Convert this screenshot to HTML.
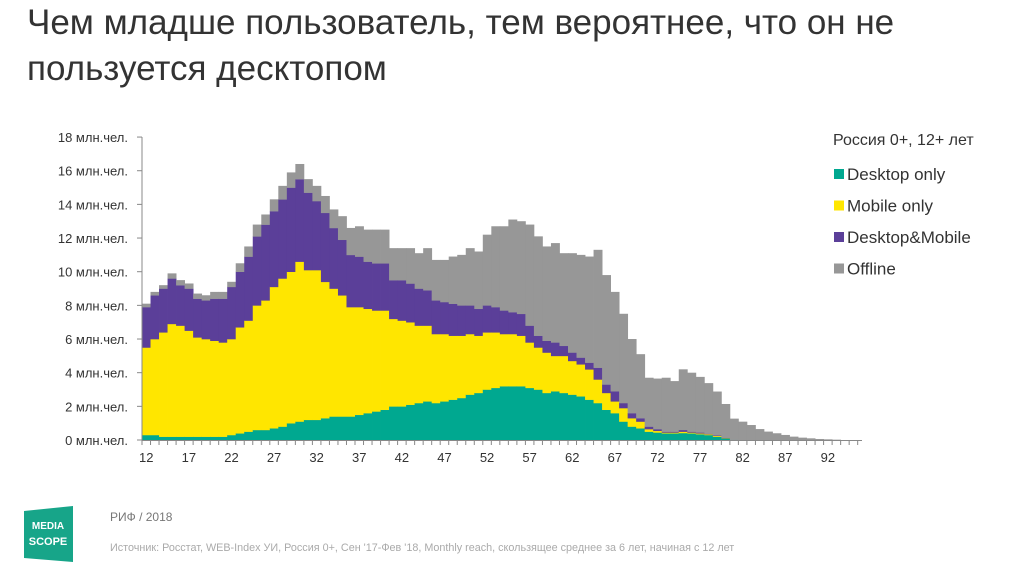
<!DOCTYPE html>
<html><head><meta charset="utf-8"><style>
body{margin:0;width:1023px;height:571px;background:#fff;overflow:hidden;font-family:"Liberation Sans",Arial,sans-serif;position:relative}
.t{position:absolute;left:27px;top:0px;font-size:35px;line-height:46px;color:#333}
svg{position:absolute;left:0;top:0}
</style></head><body>
<div class="t">Чем младше пользователь, тем вероятнее, что он не<br>пользуется десктопом</div>
<svg id="c" width="1023" height="571">
<g>
<polygon points="24,511 73,506 73,562 24,558" fill="#17a589"/>
<text x="48" y="529" font-size="10" fill="#fff" text-anchor="middle" font-weight="bold">MEDIA</text>
<text x="48" y="545" font-size="11" fill="#fff" text-anchor="middle" font-weight="bold">SCOPE</text>
</g>
<text x="110" y="521" font-size="12" fill="#777">РИФ / 2018</text>
<text x="110" y="551" font-size="10.8" fill="#aaa">Источник: Росстат, WEB-Index УИ, Россия 0+, Сен '17-Фев '18, Monthly reach, скользящее среднее за 6 лет, начиная с 12 лет</text>
</svg>
<script>
const ages=[];for(let a=12;a<=95;a++)ages.push(a);
const desktop=[.3,.3,.2,.2,.2,.2,.2,.2,.2,.2,.3,.4,.5,.6,.6,.7,.8,1.0,1.1,1.2,1.2,1.3,1.4,1.4,1.4,1.5,1.6,1.7,1.8,2.0,2.0,2.1,2.2,2.3,2.2,2.3,2.4,2.5,2.7,2.8,3.0,3.1,3.2,3.2,3.2,3.1,3.0,2.8,2.9,2.8,2.7,2.6,2.4,2.2,1.8,1.6,1.1,.8,.7,.5,.45,.4,.4,.42,.4,.35,.3,.2,.1,.02,0,0,0,0,0,0,0,0,0,0,0,0,0,0];
const mobile=[5.2,5.7,6.2,6.7,6.6,6.3,5.9,5.8,5.7,5.6,5.7,6.3,6.6,7.4,7.7,8.4,8.8,9.0,9.5,8.9,8.9,8.1,7.6,7.2,6.5,6.4,6.2,6.0,5.9,5.2,5.1,4.9,4.6,4.5,4.1,4.0,3.8,3.7,3.6,3.4,3.4,3.3,3.1,3.1,3.0,2.7,2.5,2.4,2.1,2.2,2.0,1.9,1.8,1.4,1.0,.7,.8,.5,.4,.15,.1,.05,.05,.08,.05,.05,.05,.05,.02,0,0,0,0,0,0,0,0,0,0,0,0,0,0,0];
const both=[2.4,2.6,2.6,2.7,2.4,2.5,2.3,2.3,2.5,2.6,3.1,3.3,3.8,4.1,4.5,4.5,4.7,5.0,4.9,4.6,4.1,4.1,3.6,3.3,3.1,3.0,2.8,2.8,2.8,2.3,2.4,2.3,2.2,2.1,2.0,1.9,1.9,1.8,1.7,1.6,1.6,1.5,1.4,1.3,1.3,1.0,.7,.7,.8,.6,.5,.4,.4,.7,.5,.6,.3,.3,.2,.15,.1,.05,.05,.1,.05,.05,.03,.03,.02,0,0,0,0,0,0,0,0,0,0,0,0,0,0,0];
const offline=[.2,.2,.2,.3,.3,.3,.3,.3,.4,.4,.3,.5,.6,.7,.6,.7,.8,.9,.9,.8,.9,1.0,1.1,1.4,1.6,1.8,1.9,2.0,2.0,1.9,1.9,2.1,2.1,2.5,2.4,2.5,2.8,3.0,3.4,3.4,4.2,4.8,5.0,5.5,5.5,6.0,5.9,5.6,5.9,5.5,5.9,6.1,6.3,7.0,6.5,5.9,5.3,4.4,3.8,2.9,3.0,3.2,3.0,3.6,3.5,3.3,3.0,2.6,2.0,1.25,1.09,.89,.65,.5,.4,.3,.2,.14,.1,.06,.04,.02,0,0];
const yTicks=[0,2,4,6,8,10,12,14,16,18];
const xLabels=[12,17,22,27,32,37,42,47,52,57,62,67,72,77,82,87,92];
const series=[["desktop-only",desktop,"#00a890","Desktop only"],["mobile-only",mobile,"#ffe600","Mobile only"],["desktop-and-mobile",both,"#5b3f99","Desktop&Mobile"],["offline",offline,"#979797","Offline"]];
const NS="http://www.w3.org/2000/svg",svg=document.getElementById('c');
const X0=142,BW=8.52,Y0=440,YS=16.83;
const x=a=>X0+(a-12)*BW, y=v=>Y0-v*YS;
function el(t,at,p){const e=document.createElementNS(NS,t);for(const k in at)e.setAttribute(k,at[k]);(p||svg).appendChild(e);return e;}
const bars=el('g',{});


ages.forEach((a,i)=>{let acc=0;series.forEach(s=>{const v=s[1][i];if(v>0){const r=el('rect',{x:x(a),y:y(acc+v),width:BW+0.4,height:v*YS+0.3,fill:s[2]},bars);

}acc+=v;});});
const ax=el('g',{stroke:'#888','stroke-width':1});


el('line',{x1:X0,y1:y(18),x2:X0,y2:Y0},ax);
el('line',{x1:X0,y1:Y0+0.5,x2:862,y2:Y0+0.5},ax);
yTicks.forEach(t=>{el('line',{x1:X0-5,y1:y(t),x2:X0,y2:y(t)},ax);
const tx=el('text',{x:128,y:y(t)+5,'font-size':13,fill:'#333','text-anchor':'end'});tx.textContent=t+' млн.чел.';

});
for(let a=12;a<=96;a++)el('line',{x1:x(a),y1:Y0,x2:x(a),y2:Y0+5},ax);
xLabels.forEach(a=>{const tx=el('text',{x:x(a)+BW/2,y:Y0+22,'font-size':13,fill:'#333','text-anchor':'middle'});tx.textContent=a;

});
const lg=el('g',{});


const lt=el('text',{x:833,y:145,'font-size':16,fill:'#333'},lg);lt.textContent='Россия 0+, 12+ лет';


series.forEach((s,i)=>{const by=180+i*31.5;el('rect',{x:834,y:by-11,width:10,height:10,fill:s[2]},lg);
const t=el('text',{x:847,y:by,'font-size':17,fill:'#333'},lg);t.textContent=s[3];

});
</script>
</body></html>
